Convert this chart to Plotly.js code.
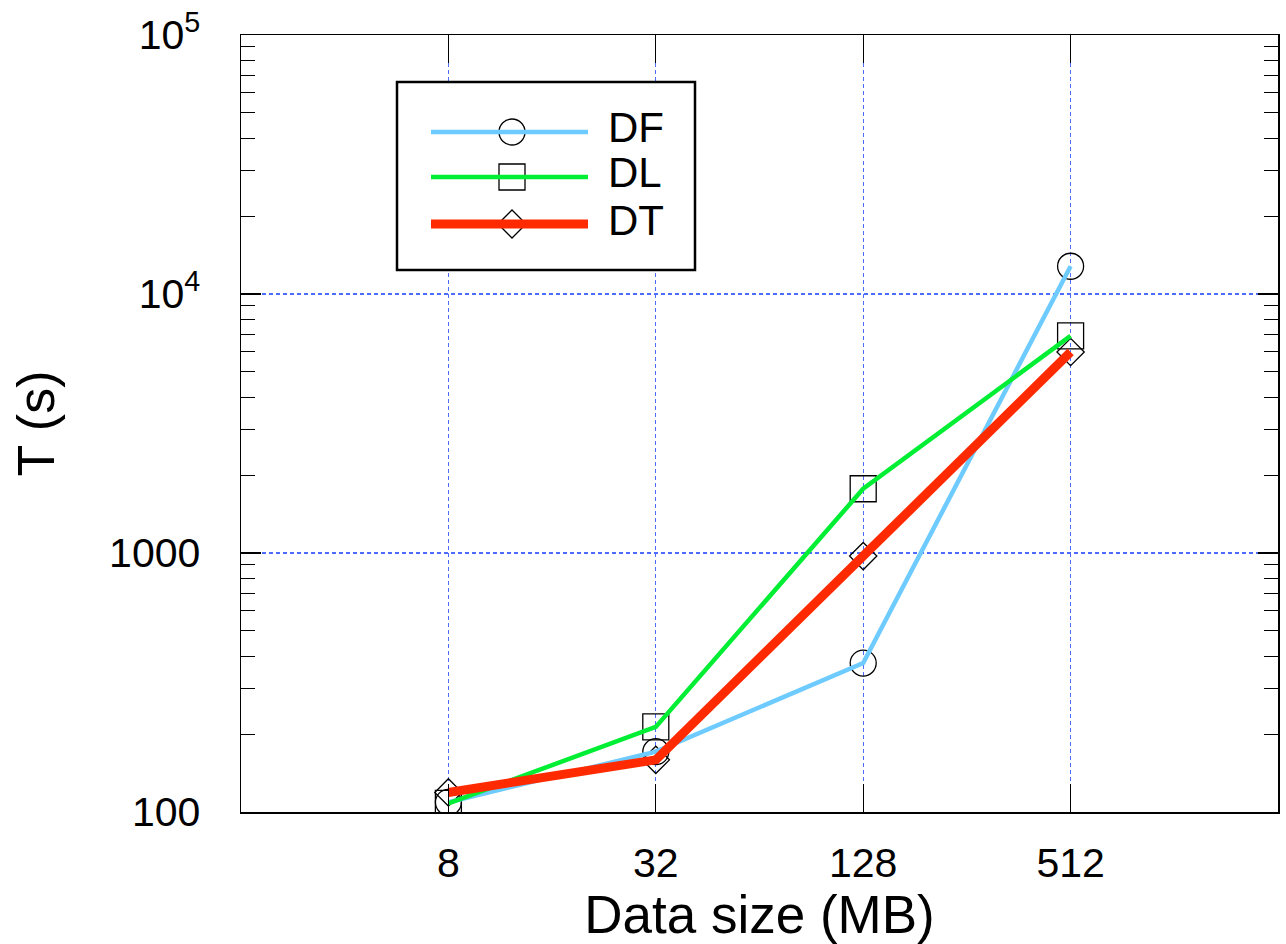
<!DOCTYPE html>
<html>
<head>
<meta charset="utf-8">
<script src="https://cdn.plot.ly/plotly-3.0.1.min.js"></script>
<style>html,body{margin:0;padding:0;background:#fff;}#chart{width:1286px;height:944px;}</style>
</head>
<body>
<div id="chart"></div>
<script>
// ---- data ----
const dataSizes = [8, 32, 128, 512];
const xTickLabels = ['8', '32', '128', '512'];
const dfTimes = [109, 171, 376, 12800];
const dlTimes = [108, 213, 1770, 6890];
const dtTimes = [119, 159, 973, 5970];
const yTickVals = [100, 1000, 10000, 100000];
const yTickLabels = ['100', '1000', '10<sup>4</sup>', '10<sup>5</sup>'];
const seriesNames = ['DF', 'DL', 'DT'];

// ---- style ----
const FONT = 'Liberation Sans, Arial, Helvetica, sans-serif';
const colors = {DF: '#6ECBFF', DL: '#00EE33', DT: '#FF2A00'};
const widths = {DF: 4.5, DL: 4.5, DT: 9};
const symbols = {DF: 'circle-open', DL: 'square-open', DT: 'diamond-open'};
const msizes = {DF: 26, DL: 26, DT: 21};
const seriesVals = {DF: dfTimes, DL: dlTimes, DT: dtTimes};

const traces = [];
// markers (drawn underneath the lines)
seriesNames.forEach(n => {
  traces.push({
    x: dataSizes, y: seriesVals[n], mode: 'markers', type: 'scatter',
    showlegend: false, hoverinfo: 'skip',
    marker: {symbol: symbols[n], size: msizes[n], color: 'black', line: {color: 'black', width: 1.3}}
  });
});
seriesNames.forEach(n => {
  traces.push({
    x: dataSizes, y: seriesVals[n], mode: 'lines', type: 'scatter', name: n,
    showlegend: false,
    line: {color: colors[n], width: widths[n]}
  });
});

// plot area in pixels
const L = 241, R = 1278, T = 35, B = 812;
const W = 1286, H = 944;
const px = v => (v - L) / (R - L);
const py = v => (B - v) / (B - T);

// custom legend
const shapes = [];
const annotations = [];
shapes.push({type: 'rect', xref: 'paper', yref: 'paper', x0: px(397), x1: px(695), y0: py(82), y1: py(270),
  line: {color: 'black', width: 2.5}, fillcolor: 'white', layer: 'above'});
const legY = {DF: 132, DL: 177, DT: 224};
const mx = 512;
seriesNames.forEach(n => {
  const y = legY[n];
  if (n === 'DF') {
    shapes.push({type: 'circle', xref: 'paper', yref: 'paper', xsizemode: 'pixel', ysizemode: 'pixel',
      xanchor: px(mx), yanchor: py(y), x0: -13, x1: 13, y0: -13, y1: 13, line: {color: 'black', width: 1.3}, layer: 'above'});
  } else if (n === 'DL') {
    shapes.push({type: 'rect', xref: 'paper', yref: 'paper', xsizemode: 'pixel', ysizemode: 'pixel',
      xanchor: px(mx), yanchor: py(y), x0: -13, x1: 13, y0: -13, y1: 13, line: {color: 'black', width: 1.3}, layer: 'above'});
  } else {
    shapes.push({type: 'path', xref: 'paper', yref: 'paper', xsizemode: 'pixel', ysizemode: 'pixel',
      xanchor: px(mx), yanchor: py(y), path: 'M -14 0 L 0 14 L 14 0 L 0 -14 Z', line: {color: 'black', width: 1.3}, layer: 'above'});
  }
  shapes.push({type: 'line', xref: 'paper', yref: 'paper', x0: px(431), x1: px(588), y0: py(y), y1: py(y),
    line: {color: colors[n], width: widths[n]}, layer: 'above'});
  annotations.push({xref: 'paper', yref: 'paper', x: px(606), y: py(y - 4), xanchor: 'left', yanchor: 'middle',
    text: n, showarrow: false, font: {family: FONT, size: 42, color: 'black'}});
});

const axisCommon = {
  showline: true, linecolor: 'black', linewidth: 1.5, mirror: 'allticks',
  ticks: 'inside', tickcolor: 'black', tickwidth: 1.2,
  showgrid: true, gridcolor: '#4D6BFF', gridwidth: 1.2, griddash: '4px,3px',
  zeroline: false, tickfont: {family: FONT, size: 41, color: 'black'}
};

const layout = {
  width: W, height: H,
  margin: {l: L, r: W - R, t: T, b: H - B},
  paper_bgcolor: 'white', plot_bgcolor: 'white',
  font: {family: FONT, color: 'black'},
  xaxis: Object.assign({}, axisCommon, {
    type: 'log', range: [Math.log10(2), Math.log10(2048)],
    tickmode: 'array', tickvals: dataSizes, ticktext: xTickLabels,
    ticklen: 28, ticklabelstandoff: 14,
    title: {text: 'Data size (MB)', font: {family: FONT, size: 53, color: 'black'}, standoff: 2}
  }),
  yaxis: Object.assign({}, axisCommon, {
    type: 'log', range: [2, 5],
    tickmode: 'array', tickvals: yTickVals, ticktext: yTickLabels,
    ticklen: 20, ticklabelstandoff: 31,
    minor: {ticks: 'inside', ticklen: 14, tickcolor: 'black', tickwidth: 1, dtick: 'D1', showgrid: false},
    title: {text: 'T (s)', font: {family: FONT, size: 52, color: 'black'}, standoff: 38}
  }),
  shapes: shapes,
  annotations: annotations,
  showlegend: false
};

Plotly.newPlot('chart', traces, layout, {displayModeBar: false, staticPlot: true});
</script>
</body>
</html>
